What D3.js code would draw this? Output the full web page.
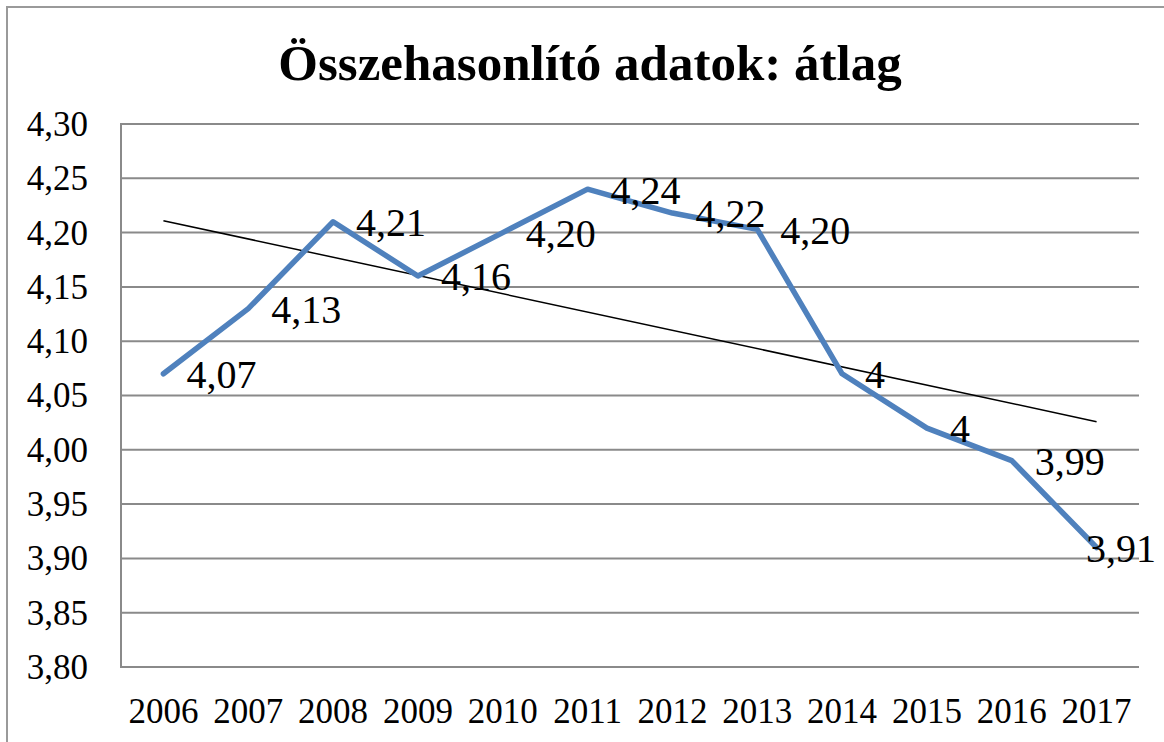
<!DOCTYPE html>
<html>
<head>
<meta charset="utf-8">
<script src="https://cdn.jsdelivr.net/npm/d3@7"></script>
<style>
  body { margin: 0; background: #fff; }
</style>
</head>
<body>
<svg id="chart"></svg>
<script>
// Comparison chart: yearly average with linear trend

const years = ["2006", "2007", "2008", "2009", "2010", "2011", "2012", "2013", "2014", "2015", "2016", "2017"];
const averages = [4.07, 4.13, 4.21, 4.16, 4.20, 4.24, 4.218, 4.203, 4.07, 4.02, 3.99, 3.91];
const pointLabels = ["4,07", "4,13", "4,21", "4,16", "4,20", "4,24", "4,22", "4,20", "4", "4", "3,99", "3,91"];
const yTicks = [3.80, 3.85, 3.90, 3.95, 4.00, 4.05, 4.10, 4.15, 4.20, 4.25, 4.30];

const W = 1164, H = 742;
const plot = { left: 121, right: 1139, top: 124, bottom: 667 };
const serif = "'Liberation Serif', 'Times New Roman', Tinos, 'DejaVu Serif', serif";

const svg = d3.select("#chart")
  .attr("width", W).attr("height", H)
  .style("font-family", serif)
  .attr("font-family", serif);

// outer chart border (right/bottom are cut off in the original)
svg.append("path")
  .attr("d", `M7,${H} L7,7 L${W},7`)
  .attr("fill", "none")
  .attr("stroke", "#9a9a9a")
  .attr("stroke-width", 2);

const x = d3.scaleBand().domain(years).range([plot.left, plot.right]);
const y = d3.scaleLinear().domain([3.80, 4.30]).range([plot.bottom, plot.top]);
const cx = d => x(d) + x.bandwidth() / 2;

// gridlines
svg.append("g")
  .selectAll("line")
  .data(yTicks)
  .join("line")
  .attr("x1", plot.left).attr("x2", plot.right)
  .attr("y1", d => y(d)).attr("y2", d => y(d))
  .attr("stroke", "#8a8a8a")
  .attr("stroke-width", 2);

// vertical axis line
svg.append("line")
  .attr("x1", plot.left).attr("x2", plot.left)
  .attr("y1", plot.top - 1).attr("y2", plot.bottom + 1)
  .attr("stroke", "#8a8a8a")
  .attr("stroke-width", 2);

// y axis labels
const fmt = v => v.toFixed(2).replace(".", ",");
svg.append("g")
  .selectAll("text")
  .data(yTicks)
  .join("text")
  .attr("x", 88)
  .attr("y", d => y(d))
  .attr("dy", "0.34em")
  .attr("text-anchor", "end")
  .style("font-family", serif)
  .style("font-size", "35px")
  .text(fmt);

// x axis labels
svg.append("g")
  .selectAll("text")
  .data(years)
  .join("text")
  .attr("x", d => cx(d))
  .attr("y", 723)
  .attr("text-anchor", "middle")
  .style("font-family", serif)
  .style("font-size", "35px")
  .text(d => d);

// linear trend line (least squares over the series)
const idx = years.map((d, i) => i);
const mx = d3.mean(idx), my = d3.mean(averages);
const slope = d3.sum(idx, i => (i - mx) * (averages[i] - my)) / d3.sum(idx, i => (i - mx) * (i - mx));
const trendAt = i => my + slope * (i - mx);
svg.append("line")
  .attr("x1", cx(years[0])).attr("y1", y(trendAt(0)))
  .attr("x2", cx(years[years.length - 1])).attr("y2", y(trendAt(years.length - 1)))
  .attr("stroke", "#000")
  .attr("stroke-width", 1.5);

// main series
const line = d3.line()
  .x((d, i) => cx(years[i]))
  .y(d => y(d));

svg.append("path")
  .datum(averages)
  .attr("d", line)
  .attr("fill", "none")
  .attr("stroke", "#4f81bd")
  .attr("stroke-width", 5.5)
  .attr("stroke-linejoin", "round")
  .attr("stroke-linecap", "round");

// data labels, to the right of each point, kept inside the chart
svg.append("g")
  .selectAll("text")
  .data(averages)
  .join("text")
  .attr("x", (d, i) => cx(years[i]) + 23)
  .attr("y", (d, i) => y(d))
  .attr("dy", "0.36em")
  .style("font-family", serif)
  .style("font-size", "40px")
  .text((d, i) => pointLabels[i])
  .each(function() {
    const w = this.getComputedTextLength();
    const x0 = +this.getAttribute("x");
    if (x0 + w > W - 8) this.setAttribute("x", W - 8 - w);
  });

// title
svg.append("text")
  .attr("x", 590)
  .attr("y", 80)
  .attr("text-anchor", "middle")
  .style("font-family", serif)
  .style("font-size", "51px")
  .style("font-weight", "bold")
  .text("Összehasonlító adatok: átlag");
</script>
</body>
</html>
